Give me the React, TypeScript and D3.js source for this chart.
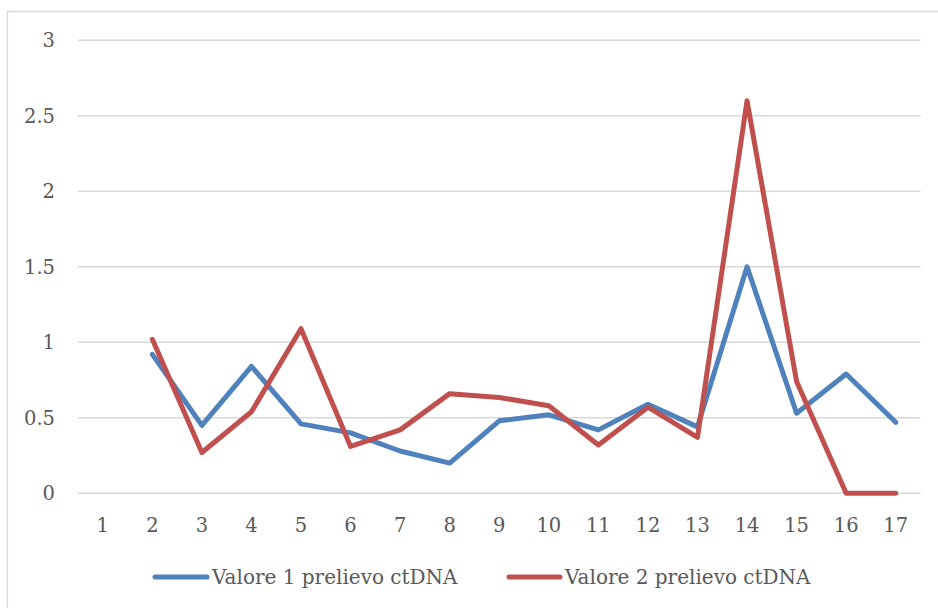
import React from "react";
import * as d3 from "d3";

const categories = ["1","2","3","4","5","6","7","8","9","10","11","12","13","14","15","16","17"];
const series1: (number | null)[] = [null,0.92,0.45,0.84,0.46,0.40,0.28,0.20,0.48,0.52,0.42,0.59,0.44,1.50,0.53,0.79,0.47];
const series2: (number | null)[] = [null,1.02,0.27,0.54,1.09,0.31,0.42,0.66,0.635,0.58,0.32,0.57,0.37,2.60,0.74,0,0];
const yTicks = [0,0.5,1,1.5,2,2.5,3];
const seriesNames = ["Valore 1 prelievo ctDNA","Valore 2 prelievo ctDNA"];
const colors = ["#4F81BD","#C0504D"];

const W = 938, H = 608;
const FONT = "'DejaVu Serif', serif";

export default function App() {
  const x = d3.scaleBand<string>().domain(categories).range([78, 920.5]);
  const y = d3.scaleLinear().domain([0,3]).range([493.3, 40.3]);
  const line = d3.line<number | null>()
    .defined(d => d !== null)
    .x((_, i) => (x(categories[i]) as number) + x.bandwidth()/2)
    .y(d => y(d as number));
  const legend = [
    { x1: 155, x2: 207, tx: 212 },
    { x1: 509, x2: 560, tx: 565 },
  ];
  return (
    <svg width={W} height={H} style={{position:"absolute", left:0, top:0}} fontFamily={FONT}>
      <rect x={0} y={0} width={W} height={H} fill="#fff" />
      <path d={`M7.5,${H+5} L7.5,11.5 L${W+5},11.5`} fill="none" stroke="#D9D9D9" strokeWidth={1.3} />
      {yTicks.map(t => (
        <g key={t}>
          <line x1={78} x2={920.5} y1={y(t)} y2={y(t)} stroke="#D9D9D9" strokeWidth={1.5} />
          <text x={55} y={y(t)} dy="0.35em" textAnchor="end" fontSize={19.5} fill="#595959">{t}</text>
        </g>
      ))}
      {categories.map(c => (
        <text key={c} x={(x(c) as number) + x.bandwidth()/2} y={525} dy="0.35em" textAnchor="middle" fontSize={19.5} fill="#595959">{c}</text>
      ))}
      {[series1, series2].map((s, i) => (
        <path key={i} d={line(s) || ""} fill="none" stroke={colors[i]} strokeWidth={5} strokeLinejoin="round" strokeLinecap="round" />
      ))}
      {legend.map((l, i) => (
        <g key={i}>
          <line x1={l.x1} x2={l.x2} y1={577} y2={577} stroke={colors[i]} strokeWidth={5} strokeLinecap="round" />
          <text x={l.tx} y={577} dy="0.35em" fontSize={20} fill="#595959">{seriesNames[i]}</text>
        </g>
      ))}
    </svg>
  );
}
